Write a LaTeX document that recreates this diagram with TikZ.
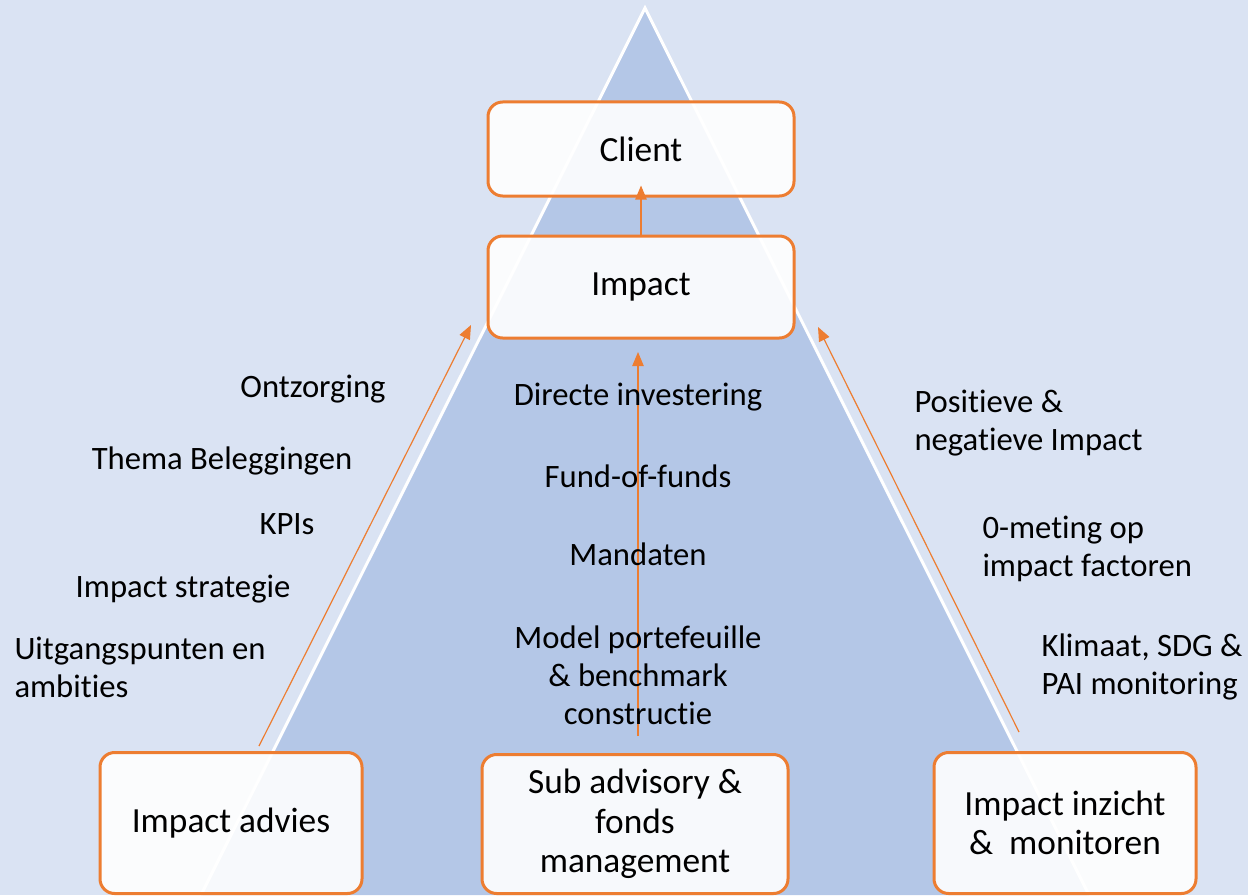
\documentclass[tikz,border=0pt]{standalone}
\usepackage{fontspec}
\setmainfont{Carlito}[Ligatures=NoCommon]
\usetikzlibrary{arrows.meta}
\definecolor{bgblue}{RGB}{218,227,243}
\definecolor{triblue}{RGB}{180,199,231}
\definecolor{boxorange}{RGB}{237,125,49}
\tikzset{every picture/.style={line width=0.75pt}}
\tikzset{
  stepbox/.style={draw=boxorange, line width=2.25pt, fill=white, fill opacity=0.9, text opacity=1,
    rounded corners=11pt, align=center, inner sep=0pt, font=\fontsize{26.5}{29.5}\selectfont},
  lblc/.style={align=center, inner sep=0pt},
  lbll/.style={align=left, anchor=west, inner sep=0pt},
  flow/.style={draw=boxorange, line width=0.9pt, -{Triangle[length=10.5pt,width=8.5pt]}}
}

\begin{document}
\begin{tikzpicture}[x=0.75pt,y=0.75pt,yscale=-1,xscale=1,
  every node/.style={font=\fontsize{24.5}{28.5}\selectfont}]
%set diagram left start at 0, and has height of 895
\useasboundingbox (0,0) rectangle (1248,895);
\fill [bgblue] (0,0) rectangle (1248,895);

%Shape: Triangle
\fill [triblue] (645,8) -- (1089,895) -- (201,895) -- cycle;
\draw [white, line width=2.25pt] (201,895) -- (645,8) -- (1089,895);

%Boxes
\node [stepbox, minimum width=229.5pt, minimum height=70.5pt] (client) at (641,149) {Client};
\node [stepbox, minimum width=229.5pt, minimum height=76.5pt] (impact) at (641,287) {Impact};
\node [stepbox, minimum width=196.5pt, minimum height=105.75pt] (advies) at (231,823) {Impact advies};
\node [stepbox, minimum width=229.5pt, minimum height=104.25pt] (subadv) at (635,824) {Sub advisory \&\\fonds\\management};
\node [stepbox, minimum width=196.5pt, minimum height=105.75pt] (inzicht) at (1065,823) {Impact inzicht\\\&~~monitoren};

%Arrow ends
\coordinate (advtail) at (259,746);
\coordinate (advtip) at (471,325);
\coordinate (midtail) at (638,736);
\coordinate (midtip) at (638,352);
\coordinate (inztail) at (1019,732);
\coordinate (inztip) at (818,327);

%Straight Lines
\draw [flow] (impact.north) -- ([yshift=-9]client.south);
\draw [flow] (advtail) -- (advtip);
\draw [flow] (midtail) -- (midtip);
\draw [flow] (inztail) -- (inztip);

% Text Node
\node [lblc] (ontz) at (313,389) {Ontzorging};
\node [lblc] (thema) at (222,461) {Thema Beleggingen};
\node [lblc] (kpis) at (287,524) {KPIs};
\node [lblc] (strat) at (183,589) {Impact strategie};
\node [lbll] (uitg) at (14,667) {Uitgangspunten en\\ambities};
% Text Node
\node [lblc] (direct) at (638,397) {Directe investering};
\node [lblc] (fof) at (638,476) {Fund-of-funds};
\node [lblc] (mand) at (638,554) {Mandaten};
\node [lblc] (model) at (638,675) {Model portefeuille\\\& benchmark\\constructie};
% Text Node
\node [lbll] (posneg) at (914,423) {Positieve \&\\negatieve Impact};
\node [lbll] (nulmeting) at (982,549) {0-meting op\\impact factoren};
\node [lbll] (klimaat) at (1041,667) {Klimaat, SDG \&\\PAI monitoring};

\end{tikzpicture}
\end{document}
